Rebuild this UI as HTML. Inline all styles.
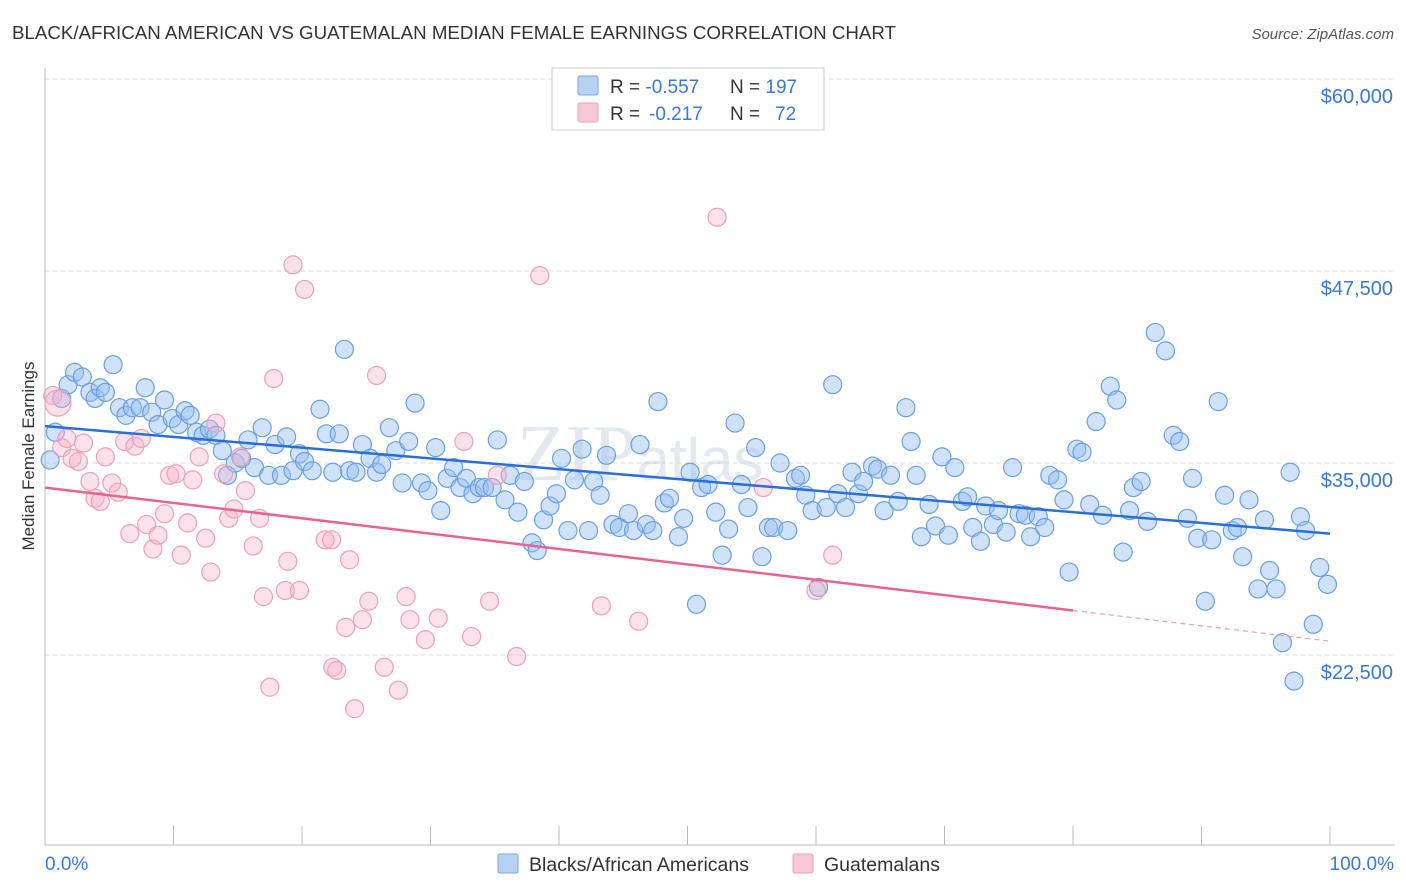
<!DOCTYPE html>
<html><head><meta charset="utf-8"><style>
body{margin:0;background:#fff;font-family:"Liberation Sans",sans-serif;}
#wrap{position:relative;width:1406px;height:892px;overflow:hidden;}
</style></head><body>
<div id="wrap">
<svg id="chart" width="1406" height="892" xmlns="http://www.w3.org/2000/svg">
<text x="12" y="39" font-size="18" fill="#333" textLength="884" lengthAdjust="spacingAndGlyphs">BLACK/AFRICAN AMERICAN VS GUATEMALAN MEDIAN FEMALE EARNINGS CORRELATION CHART</text>
<text x="1394" y="39" font-size="15" fill="#555" font-style="italic" text-anchor="end">Source: ZipAtlas.com</text>
<text x="640" y="480" font-size="80" fill="#e4e8ef" font-family="Liberation Serif,serif" text-anchor="middle">ZIP<tspan font-family="Liberation Sans,sans-serif" font-size="60">atlas</tspan></text>
<g id="grid"></g>
<g id="axes"></g>
<g id="pts"></g>
<g id="trend"></g>
<text transform="translate(34,456) rotate(-90)" font-size="17" fill="#333" text-anchor="middle">Median Female Earnings</text>
<text x="45" y="870" font-size="19" fill="#3a78d8">0.0%</text>
<text x="1394" y="870" font-size="19" fill="#3a78d8" text-anchor="end">100.0%</text>
<g>
<rect x="552" y="68" width="272" height="62" fill="#fff" stroke="#ccc"/>
<rect x="578" y="76" width="20" height="19" fill="#b8d2f4" stroke="#7aa6e0" rx="2"/>
<rect x="578" y="103" width="20" height="19" fill="#f8c6d6" stroke="#eaa0b8" rx="2"/>
<text x="610" y="93" font-size="19" fill="#333">R = <tspan fill="#3a78d8">-0.557</tspan><tspan x="730">N = </tspan><tspan fill="#3a78d8">197</tspan></text>
<text x="610" y="120" font-size="19" fill="#333">R = <tspan fill="#3a78d8" x="649">-0.217</tspan><tspan x="730">N = </tspan><tspan fill="#3a78d8" x="775">72</tspan></text>
</g>
<g>
<rect x="498" y="854" width="20" height="19" fill="#b8d2f4" stroke="#7aa6e0" rx="2"/>
<text x="529" y="871" font-size="19.5" fill="#333">Blacks/African Americans</text>
<rect x="793" y="854" width="20" height="19" fill="#f8c6d6" stroke="#eaa0b8" rx="2"/>
<text x="824" y="871" font-size="19.5" fill="#333">Guatemalans</text>
</g>
</svg>
</div>
<script>
const yTicks=[60000,47500,35000,22500];
const yTickLabels=["$60,000","$47,500","$35,000","$22,500"];
const xTicks=[0,10,20,30,40,50,60,70,80,90,100];
const blueX=[0.4,0.8,1.3,1.8,2.3,2.9,3.5,3.9,4.3,4.7,5.3,5.8,6.3,6.8,7.4,7.8,8.3,8.8,9.3,9.9,10.4,10.9,11.3,11.8,12.3,12.8,13.3,13.8,14.2,14.8,15.3,15.8,16.3,16.9,17.4,17.9,18.4,18.8,19.3,19.8,20.2,20.8,21.4,21.9,22.4,22.9,23.3,23.7,24.2,24.7,25.3,25.8,26.2,26.8,27.3,27.8,28.3,28.8,29.3,29.8,30.4,30.8,31.3,31.8,32.3,32.8,33.3,33.8,34.2,34.8,35.2,35.8,36.2,36.8,37.3,37.9,38.3,38.8,39.3,39.8,40.2,40.7,41.2,41.8,42.3,42.7,43.2,43.7,44.2,44.7,45.4,45.8,46.3,46.8,47.3,47.7,48.2,48.6,49.3,49.7,50.2,50.7,51.1,51.6,52.2,52.7,53.2,53.7,54.2,54.7,55.3,55.8,56.3,56.7,57.2,57.8,58.4,58.8,59.2,59.7,60.2,60.8,61.3,61.7,62.3,62.8,63.3,63.7,64.4,64.8,65.3,65.8,66.4,67.0,67.4,67.8,68.2,68.8,69.3,69.8,70.3,70.8,71.4,71.8,72.2,72.8,73.2,73.8,74.2,74.8,75.3,75.8,76.3,76.7,77.3,77.8,78.2,78.8,79.3,79.7,80.3,80.7,81.3,81.8,82.3,82.9,83.4,83.9,84.4,84.7,85.3,85.8,86.4,87.2,87.8,88.3,88.9,89.3,89.7,90.3,90.8,91.3,91.8,92.4,92.8,93.2,93.7,94.4,94.9,95.3,95.8,96.3,96.9,97.2,97.7,98.1,98.7,99.2,99.8];
const blueY=[35200,37000,39200,40100,40900,40600,39600,39200,39900,39600,41400,38600,38100,38600,38600,39900,38300,37500,39100,37900,37500,38400,38100,37000,36800,37200,36800,35800,34200,35000,35300,36500,34700,37300,34200,36200,34200,36700,34500,35600,35100,34500,38500,36900,34400,36900,42400,34500,34400,36200,35300,34400,34900,37300,35800,33700,36400,38900,33700,33200,36000,31900,34000,34700,33400,34000,33000,33400,33400,33400,36500,32600,34200,31800,33800,29800,29300,31300,32200,33000,35300,30600,33900,35900,30600,33800,32900,35500,31000,30800,31700,30600,36200,31000,30600,39000,32400,32700,30200,31400,34400,25800,33400,33600,31800,29000,30700,37600,33600,32100,36000,28900,30800,30800,35000,30600,34000,34200,32900,31900,26900,32100,40100,33000,32100,34400,33000,33800,34800,34600,31900,34200,32500,38600,36400,34200,30200,32300,30900,35400,30300,34700,32500,32800,30800,29900,32200,31000,31900,30500,34700,31700,31600,30200,31500,30800,34200,33900,32600,27900,35900,35700,32300,37700,31600,40000,39100,29200,31900,33400,33800,31200,43500,42300,36800,36400,31400,34000,30100,26000,30000,39000,32900,30600,30800,28900,32600,26800,31300,28000,26800,23300,34400,20800,31500,30600,24500,28200,27100];
const pinkX=[0.6,1.0,1.3,1.7,2.1,2.6,3.0,3.5,3.9,4.3,4.7,5.2,5.7,6.2,6.6,7.0,7.5,7.9,8.4,8.8,9.3,9.7,10.2,10.6,11.1,11.5,12.0,12.5,12.9,13.3,13.9,14.3,14.7,15.2,15.6,16.2,16.7,17.0,17.5,17.8,18.7,18.9,19.3,19.8,20.2,21.8,22.3,22.4,22.7,23.4,23.7,24.1,24.7,25.2,25.8,26.4,27.5,28.1,28.4,29.6,30.6,32.6,33.2,34.6,35.2,36.7,38.5,43.3,46.2,52.3,55.9,60.0,61.3];
const pinkY=[39400,38900,36000,36600,35300,35100,36300,33800,32700,32500,35400,33700,33100,36400,30400,36100,36600,31000,29400,30300,31700,34200,34300,29000,31100,33900,35400,30100,27900,37600,34300,31400,32000,35400,33200,29600,31400,26300,20400,40500,26700,28600,47900,26700,46300,30000,30000,21700,21500,24300,28700,19000,24800,26000,40700,21700,20200,26300,24800,23500,24900,36400,23700,26000,34200,22400,47200,25700,24700,51000,33400,26700,29000];
const blueTrendX=[0,100];
const blueTrendY=[37400,30400];
const pinkTrendX=[0,80,100];
const pinkTrendY=[33400,25400,23400];

const X0=45,X1=1330;
const sx=v=>X0+(X1-X0)*v/100;
const sy=v=>79+(60000-v)*192/12500;
const NS="http://www.w3.org/2000/svg";
function mk(tag,attrs,parent){const e=document.createElementNS(NS,tag);for(const k in attrs)e.setAttribute(k,attrs[k]);parent.appendChild(e);return e;}
const grid=document.getElementById('grid'),axes=document.getElementById('axes'),pts=document.getElementById('pts'),trend=document.getElementById('trend');
yTicks.forEach((t,i)=>{
  const l=mk('line',{x1:X0,x2:1395,y1:sy(t),y2:sy(t),stroke:'#d8d8d8','stroke-dasharray':'4,4'},grid);
  
  
  const tx=mk('text',{x:1393,y:sy(t)+24,'font-size':20,fill:'#3a78d8','text-anchor':'end'},grid);
  tx.textContent=yTickLabels[i];
  
  
});
const ya=mk('line',{x1:X0,x2:X0,y1:68,y2:845,stroke:'#bbb'},axes);


const xa=mk('line',{x1:X0,x2:1395,y1:845,y2:845,stroke:'#bbb'},axes);


xTicks.forEach(t=>{
  const l=mk('line',{x1:sx(t),x2:sx(t),y1:826,y2:845,stroke:'#bbb'},axes);
  
  
});
blueX.forEach((x,i)=>{
  const c=mk('circle',{cx:sx(x),cy:sy(blueY[i]),r:9,fill:'rgba(150,190,240,0.45)',stroke:'#6b9fdf','stroke-width':1.2},pts);
  
  
});
pinkX.forEach((x,i)=>{
  const c=mk('circle',{cx:sx(x),cy:sy(pinkY[i]),r:i===1?13:9,fill:'rgba(245,175,200,0.38)',stroke:'#eba0ba','stroke-width':1.2},pts);
  
  
});
const bl=mk('line',{x1:sx(blueTrendX[0]),y1:sy(blueTrendY[0]),x2:sx(blueTrendX[1]),y2:sy(blueTrendY[1]),stroke:'#2a6fd6','stroke-width':2.5},trend);


const pl=mk('line',{x1:sx(pinkTrendX[0]),y1:sy(pinkTrendY[0]),x2:sx(pinkTrendX[1]),y2:sy(pinkTrendY[1]),stroke:'#e8648f','stroke-width':2.5},trend);


const pd=mk('line',{x1:sx(pinkTrendX[1]),y1:sy(pinkTrendY[1]),x2:sx(pinkTrendX[2]),y2:sy(pinkTrendY[2]),stroke:'#e8a0b8','stroke-width':1.2,'stroke-dasharray':'5,4'},trend);


</script>
</body></html>
